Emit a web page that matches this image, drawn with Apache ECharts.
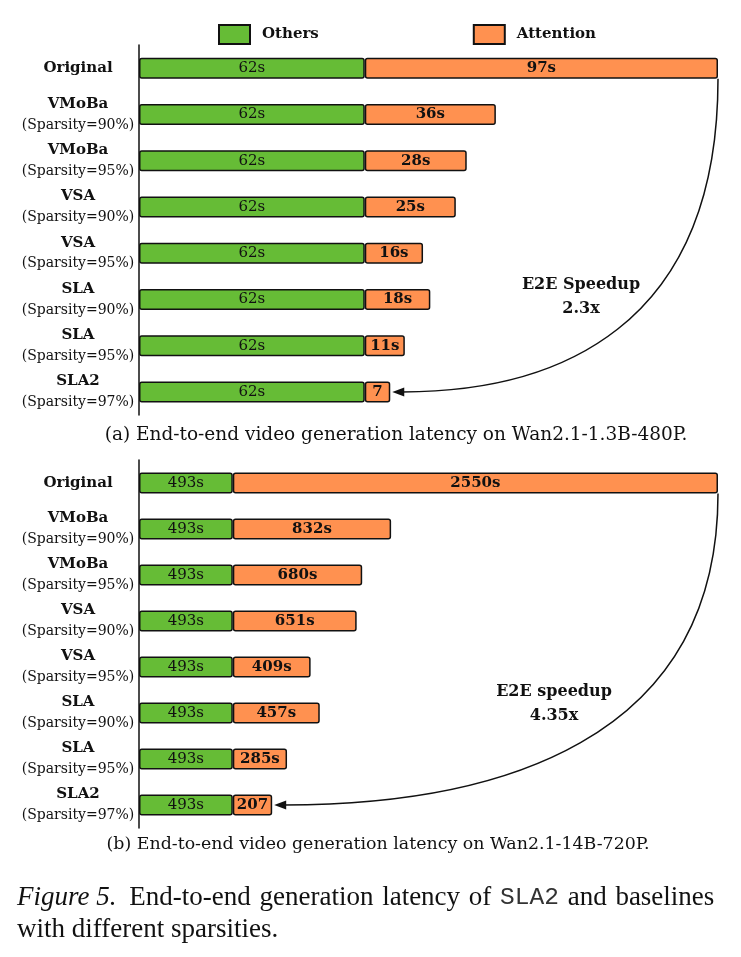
<!DOCTYPE html>
<html>
<head>
<meta charset="utf-8">
<script src="https://cdn.jsdelivr.net/npm/echarts@6/dist/echarts.min.js"></script>
<style>
  html, body { margin: 0; padding: 0; background: #fff; }
  #chart { width: 741px; height: 957px; }
</style>
</head>
<body>
<div id="chart"></div>
<script>
// rows (shared by both panels)
var methods = ['Original', 'VMoBa', 'VMoBa', 'VSA', 'VSA', 'SLA', 'SLA', 'SLA2'];
var sparsity = ['', '90%', '95%', '90%', '95%', '90%', '95%', '97%'];

// (a) Wan2.1-1.3B-480P, seconds
var othersA = [62, 62, 62, 62, 62, 62, 62, 62];
var attnA = [97, 36, 28, 25, 16, 18, 11, 7];
var attnLabelsA = ['97s', '36s', '28s', '25s', '16s', '18s', '11s', '7'];

// (b) Wan2.1-14B-720P, seconds
var othersB = [493, 493, 493, 493, 493, 493, 493, 493];
var attnB = [2550, 832, 680, 651, 409, 457, 285, 207];
var attnLabelsB = ['2550s', '832s', '680s', '651s', '409s', '457s', '285s', '207'];

var GREEN = '#66bc36';
var ORANGE = '#ff9150';
var FONT = 'DejaVu Serif';

var chart = echarts.init(document.getElementById('chart'));

//category names with the sparsity on a second line
var categories = methods.map(function(m, i) {
    return sparsity[i] ? m + '\n(Sparsity=' + sparsity[i] + ')' : m;
});

function catLabel(value) {
    var parts = value.split('\n');
    var s = '{b|' + parts[0] + '}';
    if (parts[1]) s += '\n{s|' + parts[1] + '}';
    return s;
}

function yAxis(gridIndex) {
    return {
        type: 'category',
        gridIndex: gridIndex,
        data: categories,
        inverse: true,
        axisLine: { show: true, lineStyle: { color: '#111', width: 1.5 } },
        axisTick: { show: false },
        axisLabel: {
            align: 'center',
            margin: 61,
            formatter: catLabel,
            rich: {
                b: { fontFamily: FONT, fontWeight: 'bold', fontSize: 15, color: '#111', lineHeight: 21, align: 'center' },
                s: { fontFamily: FONT, fontSize: 14, color: '#111', lineHeight: 21, align: 'center' }
            }
        }
    };
}

function xAxis(gridIndex, max) {
    return {
        type: 'value', gridIndex: gridIndex, min: 0, max: max, show: false,
        splitLine: { show: false }
    };
}

function barSeries(name, data, idx, color, stack, labels, bold) {
    return {
        name: name,
        type: 'bar',
        xAxisIndex: idx,
        yAxisIndex: idx,
        stack: stack,
        data: data,
        barWidth: 21,
        itemStyle: { color: color, borderColor: '#111', borderWidth: 1.5, borderRadius: 2 },
        label: {
            show: true,
            position: 'inside',
            fontFamily: FONT,
            fontSize: 15,
            fontWeight: bold ? 'bold' : 'normal',
            color: '#111',
            formatter: function(p) {
                return labels ? labels[p.dataIndex] : p.value + 's';
            }
        },
        emphasis: { disabled: true },
        animation: false
    };
}

var option = {
    animation: false,
    legend: {
        top: 19,
        left: 213,
        itemWidth: 31,
        itemHeight: 19,
        itemGap: 154,
        icon: 'rect',
        data: ['Others', 'Attention'],
        textStyle: { fontFamily: FONT, fontWeight: 'bold', fontSize: 15, color: '#111', padding: [0, 0, 0, 7] }
    },
    grid: [
        { left: 139, right: 23, top: 45, height: 370 },
        { left: 139, right: 23, top: 460, height: 368 }
    ],
    xAxis: [xAxis(0, 159), xAxis(1, 3043)],
    yAxis: [yAxis(0), yAxis(1)],
    series: [
        barSeries('Others', othersA, 0, GREEN, 'a', null, false),
        barSeries('Attention', attnA, 0, ORANGE, 'a', attnLabelsA, true),
        barSeries('Others', othersB, 1, GREEN, 'b', null, false),
        barSeries('Attention', attnB, 1, ORANGE, 'b', attnLabelsB, true)
    ]
};

chart.setOption(option);

//speedup arrow: from the end of the Original bar to the end of the SLA2 bar
function arrow(idx, others, attn) {
    var last = attn.length - 1;
    var start = chart.convertToPixel({ gridIndex: idx }, [others[0] + attn[0], 0]);
    var end = chart.convertToPixel({ gridIndex: idx }, [others[last] + attn[last], last]);
    var x1 = start[0], y1 = start[1] + 10.5;
    var x2 = end[0] + 2, y2 = end[1];
    return [{
        type: 'bezierCurve',
        shape: {
            x1: x1, y1: y1, x2: x2 + 10, y2: y2,
            cpx1: x1, cpy1: y1 + 0.8 * (y2 - y1),
            cpx2: x2 + 0.5 * (x1 - x2), cpy2: y2
        },
        style: { stroke: '#111', lineWidth: 1.5, fill: null },
        silent: true
    }, {
        type: 'polygon',
        shape: { points: [[x2, y2], [x2 + 12, y2 - 4.5], [x2 + 12, y2 + 4.5]] },
        style: { fill: '#111' },
        silent: true
    }];
}

function boldText(x, y, text) {
    return {
        type: 'text', x: x, y: y,
        style: { text: text, fontFamily: FONT, fontWeight: 'bold', fontSize: 16, fill: '#111',
                 align: 'center', verticalAlign: 'middle', lineHeight: 24 },
        silent: true
    };
}

var capWords = ['End-to-end', 'generation', 'latency', 'of'];
var capLine1 = '{i|Figure 5.} ' + capWords.map(function(w) { return '{r|' + w + '}'; }).join(' ') +
    ' {m|SLA2} {r|and} {r|baselines}';

var graphics = []
    .concat(arrow(0, othersA, attnA))
    .concat(arrow(1, othersB, attnB))
    .concat([
        boldText(581, 297, 'E2E Speedup\n2.3x'),
        boldText(554, 704, 'E2E speedup\n4.35x'),
        {
            type: 'text', x: 396, y: 435,
            style: { text: '(a) End-to-end video generation latency on Wan2.1-1.3B-480P.', fontFamily: FONT,
                     fontSize: 18.5, fill: '#111', align: 'center', verticalAlign: 'middle' }
        },
        {
            type: 'text', x: 378, y: 844,
            style: { text: '(b) End-to-end video generation latency on Wan2.1-14B-720P.', fontFamily: FONT,
                     fontSize: 17.4, fill: '#111', align: 'center', verticalAlign: 'middle' }
        },
        {
            type: 'text', x: 17, y: 882,
            style: {
                text: capLine1 + '\n{r|with different sparsities.}',
                fontFamily: 'Liberation Serif', fontSize: 27, fill: '#111', lineHeight: 32,
                rich: {
                    i: { fontFamily: 'Liberation Serif', fontStyle: 'italic', fontSize: 27, fill: '#111', lineHeight: 32, padding: [0, 6, 0, 0] },
                    r: { fontFamily: 'Liberation Serif', fontSize: 27, fill: '#111', lineHeight: 32, padding: [0, 2, 0, 0] },
                    m: { fontFamily: 'Liberation Mono', fontSize: 24.5, fill: '#333', lineHeight: 32, padding: [0, 2, 0, 0] }
                }
            }
        }
    ]);

chart.setOption({ graphic: graphics });
</script>
</body>
</html>
